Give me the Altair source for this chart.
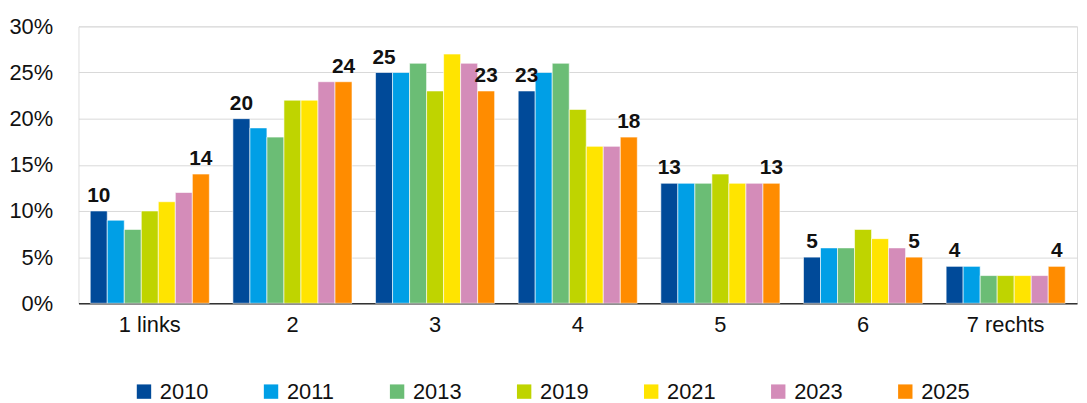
import altair as alt
import pandas as pd

categories = ["1 links", "2", "3", "4", "5", "6", "7 rechts"]
years = ["2010", "2011", "2013", "2019", "2021", "2023", "2025"]
values = {
    "2010": [10, 20, 25, 23, 13, 5, 4],
    "2011": [9, 19, 25, 25, 13, 6, 4],
    "2013": [8, 18, 26, 26, 13, 6, 3],
    "2019": [10, 22, 23, 21, 14, 8, 3],
    "2021": [11, 22, 27, 17, 13, 7, 3],
    "2023": [12, 24, 26, 17, 13, 6, 3],
    "2025": [14, 24, 23, 18, 13, 5, 4],
}
colors = ["#004A99", "#009FE6", "#6BBD75", "#BFD400", "#FFE400", "#D48CB9", "#FF8C00"]
labelled_years = ["2010", "2025"]

rows = []
for y in years:
    for c, v in zip(categories, values[y]):
        rows.append({"cat": c, "year": y, "val": v})
df = pd.DataFrame(rows)

FONT = "Liberation Sans"

x = alt.X("cat:N", sort=categories, title=None,
          scale=alt.Scale(paddingInner=0.165, paddingOuter=0.0825),
          axis=alt.Axis(labelAngle=0, labelFontSize=22, labelPadding=11, ticks=False,
                        domainColor="#333333", domainWidth=1.5, labelColor="#111111",
                        labelFont=FONT))
xo = alt.XOffset("year:N", sort=years, scale=alt.Scale(paddingInner=0, paddingOuter=0))
yenc = alt.Y("val:Q", title=None,
             scale=alt.Scale(domain=[0, 30], nice=False),
             axis=alt.Axis(values=[0, 5, 10, 15, 20, 25, 30], labelExpr="datum.value + '%'",
                           labelFontSize=22, labelPadding=26, ticks=False, domain=False,
                           gridColor="#D9D9D9", gridWidth=1, labelColor="#111111",
                           labelFont=FONT))

bars = alt.Chart(df).mark_bar(stroke="white", strokeWidth=0.6).encode(
    x=x, xOffset=xo, y=yenc,
    color=alt.Color("year:N", sort=years,
                    scale=alt.Scale(domain=years, range=colors),
                    legend=alt.Legend(title=None, orient="none", direction="horizontal",
                                      legendX=55, legendY=357, symbolType="square",
                                      symbolSize=210, symbolStrokeWidth=0, labelFontSize=22,
                                      labelFont=FONT, labelColor="#111111",
                                      columnPadding=52, labelOffset=5, padding=0)),
)

texts = alt.Chart(df).transform_filter(
    alt.FieldOneOfPredicate(field="year", oneOf=labelled_years)
).mark_text(dy=-15, fontSize=21, fontWeight="bold", font=FONT, color="#111111").encode(
    x=alt.X("cat:N", sort=categories),
    xOffset=alt.XOffset("year:N", sort=years),
    y="val:Q",
    text="val:Q",
)

chart = alt.layer(bars, texts).properties(
    width=1006, height=279,
    autosize=alt.AutoSizeParams(type="none"),
    padding={"left": 71, "top": 17, "right": 2, "bottom": 99},
).configure_view(stroke=None).configure(font=FONT)

chart.save("out.html", embed_options={"renderer": "svg", "actions": False})
